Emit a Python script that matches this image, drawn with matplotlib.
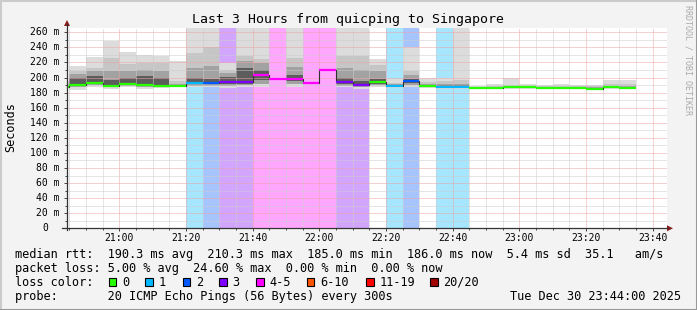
import matplotlib
matplotlib.use("Agg")
import matplotlib.pyplot as plt
import numpy as np
from matplotlib.patches import Rectangle, Polygon

# 5-minute bins (start time of each bin)
bin_start = ["20:40", "20:45", "20:50", "20:55", "21:00", "21:05", "21:10", "21:15",
             "21:20", "21:25", "21:30", "21:35", "21:40", "21:45", "21:50", "21:55",
             "22:00", "22:05", "22:10", "22:15", "22:20", "22:25", "22:30", "22:35",
             "22:40", "22:45", "22:50", "22:55", "23:00", "23:05", "23:10", "23:15",
             "23:20", "23:25", "23:30"]

# median rtt per bin (ms)
median = [188.0, 190.6, 193.2, 188.8, 191.9, 190.6, 189.2, 189.2,
          192.3, 193.2, 194.5, 194.5, 204.0, 198.1, 197.7, 192.3,
          210.3, 193.6, 189.6, 193.6, 189.2, 195.0, 188.3, 187.9,
          188.0, 186.5, 186.1, 187.3, 187.3, 186.5, 186.2, 186.2,
          185.0, 186.8, 186.0]

# lost pings out of 20 per bin
loss = [0, 0, 0, 0, 0, 0, 0, 0,
        1, 2, 3, 3, 5, 5, 4, 5,
        5, 3, 3, 0, 1, 2, 0, 1,
        1, 0, 0, 0, 0, 0, 0, 0,
        0, 0, 0]

nan = np.nan
# smoke bands (ms): outer min..max, then lighter to darker inner bands
smoke_max = [195, 215, 227, 248, 233.5, 230.5, 228, 221.5,
             300, 300, 219, 300, 300, nan, 300, nan,
             nan, 300, 300, 224, 198, 240, 199, 199,
             300, 189, 191, 199, 191, 190.6, 191, 190.6,
             190, 197.3, 197.3]
smoke_min = [186, 184, 188, 185, 188, 185, 186, 187,
             187, 187, 186, 188, 187, nan, 188, nan,
             nan, 187, 185, 188, 186, 188, 186, 185,
             185, 185, 184.5, 185, 185, 185.5, 185, 185,
             184.5, 185, 185]
mid_hi = [192, 209, 213, 226, 218, 219, 219, 195,
          232, 240, 210, 228, 224, nan, 226, nan,
          nan, 229, 229, 217, 193, 208, 194, 195,
          197, 188, 189, 190, 189, 189, 189, 189,
          188.5, 191, 191]
mid_lo = [187, 187, 190, 187, 189, 187, 187, 188,
          189, 189, 189, 190, 192, nan, 191, nan,
          nan, 189, 187, 190, 187, 190, 187, 186,
          186, 185.5, 185, 186, 186, 186, 185.5, 185.5,
          185, 186, 186]
core_hi = [189, 205, 208, 208, 208, 210.5, 208, 191,
           212, 215, 206, 222, 219, nan, 214, nan,
           nan, 212, 210, 208, 191, 204, 192, 192,
           191, 187.5, 187.5, 188.5, 188.3, 188, 188, 188,
           187, 189, 189]
dark_hi = [188.5, 199.5, 201.6, 197, 199.5, 201.6, 200, 190,
           199, 198, 201, 212, 210, nan, 204, nan,
           nan, 199, 196, 198, 190, 198, 190, 190,
           189.5, 187, 187, 188, 188, 187.5, 187.5, 187.5,
           186.3, 188, 188]
dark_lo = [187.5, 189, 192, 188, 191, 189, 188.5, 188.5,
           191, 191, 192, 192, 197, nan, 195, nan,
           nan, 191, 188.5, 192, 188, 193, 187.5, 187,
           187, 186, 185.5, 186.5, 186.5, 186.2, 186, 186,
           185.3, 186.5, 186]

loss_buckets = [(0, "0", "#26ff00"), (1, "1", "#00b8ff"), (2, "2", "#0059ff"),
                (3, "3", "#7e00ff"), (5, "4-5", "#ff00ff"), (10, "6-10", "#ff5500"),
                (19, "11-19", "#ff0000"), (20, "20/20", "#a10000")]


def loss_color(n):
    for limit, _, color in loss_buckets:
        if n <= limit:
            return color
    return loss_buckets[-1][2]


def to_min(s):
    h, m = s.split(":")
    return (int(h) - 20) * 60 + int(m)


W, H = 697, 310
MONO = "DejaVu Sans Mono"
X0, X1 = 44.3, 224.3        # minutes after 20:00 at plot edges
Y1 = 265.7
PX_L, PX_R, PX_T, PX_B = 67, 667, 28, 228.3

fig = plt.figure(figsize=(W / 100, H / 100), dpi=100)
fig.patch.set_facecolor("#f3f3f3")

ax = fig.add_axes([PX_L / W, (H - PX_B) / H, (PX_R - PX_L) / W, (PX_B - PX_T) / H])
ax.set_facecolor("white")
ax.set_xlim(X0, X1)
ax.set_ylim(0, Y1)

starts = np.array([to_min(s) for s in bin_start], dtype=float)

# loss background
for x0, n in zip(starts, loss):
    if n > 0:
        ax.bar(x0, 400, width=5, align="edge", color=loss_color(n), alpha=0.35,
               linewidth=0, zorder=1)

# smoke
bands = [(smoke_min, smoke_max, "#dcdcdc"), (mid_lo, mid_hi, "#c6c6c6"),
         (mid_lo, core_hi, "#a2a2a2"), (dark_lo, dark_hi, "#5c5c5c")]
for z, (lo, hi, col) in enumerate(bands):
    for x0, a, b in zip(starts, lo, hi):
        if np.isnan(a):
            continue
        ax.bar(x0, b - a, bottom=a, width=5, align="edge", color=col,
               linewidth=0, zorder=1.2 + z * 0.1)

# median line
for i in range(1, len(starts)):
    ax.plot([starts[i], starts[i]], [median[i - 1], median[i]], color="#303030",
            lw=0.8, zorder=3)
for x0, m, n in zip(starts, median, loss):
    ax.hlines(m, x0, x0 + 5, color=loss_color(n), lw=1.6, zorder=3.5)

# grid
ax.set_xticks(np.arange(60, 221, 20))
ax.set_xticks(np.arange(45, 225, 5), minor=True)
ax.set_yticks(np.arange(0, 261, 20))
ax.set_yticks(np.arange(10, 266, 10), minor=True)
ax.grid(which="minor", color="#cccccc", lw=0.72, ls=(0, (1, 1)))
ax.grid(which="major", color="#efa4a4", lw=0.72, ls=(0, (1, 1)))
ax.set_axisbelow(False)
ax.tick_params(labelleft=False, labelbottom=False)
ax.tick_params(which="major", length=2.5, width=0.7, color="#444444")
ax.tick_params(which="minor", length=1.2, width=0.7, color="#444444")
for sp in ax.spines.values():
    sp.set_visible(False)

# overlay for frame, axes arrows and text
ov = fig.add_axes([0, 0, 1, 1], zorder=10)
ov.set_xlim(0, W)
ov.set_ylim(H, 0)
ov.axis("off")
ov.patch.set_alpha(0)

ov.plot([0, W], [0.5, 0.5], color="#cbcbcb", lw=1.5)
ov.plot([0.5, 0.5], [0, H], color="#cbcbcb", lw=1.5)
ov.plot([0, W], [H - 0.5, H - 0.5], color="#999999", lw=1.5)
ov.plot([W - 0.5, W - 0.5], [0, H], color="#999999", lw=1.5)

ov.plot([PX_L, PX_L], [PX_B + 2, 24], color="#333333", lw=0.9)
ov.plot([62, 668], [PX_B, PX_B], color="#333333", lw=0.9)
ov.add_patch(Polygon([[PX_L - 3, 26], [PX_L + 3, 26], [PX_L, 20]], closed=True,
                     color="#8b1a1a", lw=0))
ov.add_patch(Polygon([[667, PX_B - 3], [667, PX_B + 3], [673, PX_B]], closed=True,
                     color="#8b1a1a", lw=0))

ov.text(348.5, 19, "Last 3 Hours from quicping to Singapore", ha="center", va="center",
        fontsize=9.5, family=MONO, color="#000000")
ov.text(10.5, 127, "Seconds", rotation=90, ha="center", va="center", fontsize=8.5,
        family=MONO, color="#000000")
ov.text(688, 60, "RRDTOOL / TOBI OETIKER", rotation=-90, ha="center", va="center",
        fontsize=6, family=MONO, color="#aaaaaa")

px_per_ms = (PX_B - PX_T) / Y1
for v in range(0, 261, 20):
    y = PX_B - v * px_per_ms
    if v == 0:
        ov.text(47.8, y, "0", ha="right", va="center", fontsize=7, family=MONO)
    else:
        ov.text(59.8, y, f"{v} m", ha="right", va="center", fontsize=7, family=MONO)

px_per_min = (PX_R - PX_L) / (X1 - X0)
for t in range(60, 221, 20):
    x = PX_L + (t - X0) * px_per_min
    ov.text(x, 238, f"{20 + t // 60}:{t % 60:02d}", ha="center", va="center",
            fontsize=7, family=MONO)

LX = 15
ov.text(LX, 254.3,
        "median rtt:  190.3 ms avg  210.3 ms max  185.0 ms min  186.0 ms now  5.4 ms sd  35.1   am/s",
        ha="left", va="center", fontsize=8.54, family=MONO)
ov.text(LX, 268.3,
        "packet loss: 5.00 % avg  24.60 % max  0.00 % min  0.00 % now",
        ha="left", va="center", fontsize=8.54, family=MONO)
ov.text(LX, 282.3, "loss color:", ha="left", va="center", fontsize=8.54, family=MONO)
box_x = [108.7, 145.3, 182.7, 219, 256, 306.7, 366, 430.3]
for bx, (_, label, color) in zip(box_x, loss_buckets):
    ov.add_patch(Rectangle((bx, 278.3), 7.5, 8, facecolor=color, edgecolor="black",
                           lw=0.8))
    ov.text(bx + 13.3, 282.3, label, ha="left", va="center", fontsize=8.54, family=MONO)
ov.text(LX, 296.7, "probe:       20 ICMP Echo Pings (56 Bytes) every 300s",
        ha="left", va="center", fontsize=8.54, family=MONO)
ov.text(680.5, 296.7, "Tue Dec 30 23:44:00 2025", ha="right", va="center",
        fontsize=8.54, family=MONO)

fig.savefig("out.png", dpi=100, facecolor=fig.get_facecolor())
